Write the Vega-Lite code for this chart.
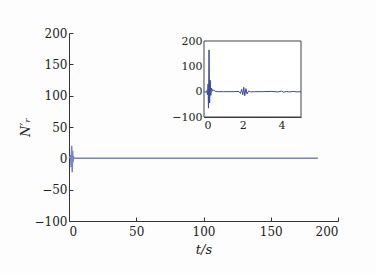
{
  "$schema": "https://vega.github.io/schema/vega-lite/v6.json",
  "width": 269,
  "height": 188,
  "autosize": "none",
  "padding": {"left": 69, "top": 33, "right": 38, "bottom": 52},
  "background": "#fdfdfd",
  "config": {
    "view": {"stroke": null},
    "axis": {
      "grid": false,
      "labelFont": "DejaVu Serif",
      "titleFont": "DejaVu Serif",
      "labelFontSize": 12,
      "titleFontSize": 13,
      "titleFontWeight": "normal",
      "labelColor": "#222",
      "titleColor": "#222",
      "domainColor": "#333",
      "tickColor": "#333",
      "tickSize": -4,
      "labelPadding": 6
    }
  },
  "layer": [
    {
      "data": {"values": [
        {"t": 0, "v": 0}, {"t": 1.2, "v": 4}, {"t": 1.6, "v": -14}, {"t": 2.0, "v": 20},
        {"t": 2.4, "v": -22}, {"t": 2.7, "v": 12}, {"t": 3.0, "v": -6}, {"t": 3.3, "v": 3},
        {"t": 3.7, "v": 0}, {"t": 6, "v": 0}, {"t": 185, "v": 0}
      ]},
      "mark": {"type": "line", "color": "#7a82bf", "strokeWidth": 1.5},
      "encoding": {
        "x": {"field": "t", "type": "quantitative",
              "scale": {"domain": [0, 200], "nice": false},
              "axis": {"values": [0, 50, 100, 150, 200], "title": "t/s", "titleFontStyle": "italic", "titlePadding": 6, "labelPadding": 9, "orient": "bottom"}},
        "y": {"field": "v", "type": "quantitative",
              "scale": {"domain": [-100, 200], "nice": false, "zero": false},
              "axis": {"values": [-100, -50, 0, 50, 100, 150, 200], "title": "N′ᵣ", "titleFontStyle": "italic", "titlePadding": 2, "orient": "left"}}
      }
    },
    {
      "layer": [
        {
          "data": {"values": [{"x0": 0, "x1": 5, "y0": -100, "y1": 200}]},
          "mark": {"type": "rect", "fill": "#ffffff", "stroke": "#444", "strokeWidth": 1},
          "encoding": {
            "x": {"field": "x0", "type": "quantitative",
                  "scale": {"domain": [0, 5], "range": [135, 232], "nice": false},
                  "axis": {"orient": "bottom", "offset": -104, "values": [0, 2, 4], "title": null, "labelFontSize": 11, "tickSize": -3, "labelPadding": 5}},
            "x2": {"field": "x1"},
            "y": {"field": "y0", "type": "quantitative",
                  "scale": {"domain": [-100, 200], "range": [84, 8], "nice": false, "zero": false},
                  "axis": {"orient": "left", "offset": -135, "values": [-100, 0, 100, 200], "title": null, "labelFontSize": 11, "tickSize": -3, "labelPadding": 5}},
            "y2": {"field": "y1"}
          }
        },
        {
          "data": {"values": [
            {"t": 0, "v": 0}, {"t": 0.08, "v": -2}, {"t": 0.13, "v": 4}, {"t": 0.18, "v": -12},
            {"t": 0.21, "v": 30}, {"t": 0.23, "v": -65}, {"t": 0.26, "v": 165}, {"t": 0.29, "v": -45},
            {"t": 0.32, "v": 45}, {"t": 0.35, "v": -15}, {"t": 0.39, "v": 14}, {"t": 0.44, "v": 2},
            {"t": 0.5, "v": 7}, {"t": 0.58, "v": 1}, {"t": 0.7, "v": 0}, {"t": 1.0, "v": 0},
            {"t": 1.5, "v": 0}, {"t": 1.8, "v": 1}, {"t": 1.88, "v": -7}, {"t": 1.94, "v": 9},
            {"t": 2.0, "v": -12}, {"t": 2.05, "v": 17}, {"t": 2.1, "v": -16}, {"t": 2.16, "v": 12},
            {"t": 2.22, "v": -9}, {"t": 2.3, "v": 3}, {"t": 2.4, "v": -1}, {"t": 2.6, "v": 0},
            {"t": 3.0, "v": 0}, {"t": 3.5, "v": 1}, {"t": 3.8, "v": -1}, {"t": 4.0, "v": 2},
            {"t": 4.1, "v": -2}, {"t": 4.25, "v": 1}, {"t": 4.4, "v": -1}, {"t": 4.6, "v": 1},
            {"t": 4.8, "v": -1}, {"t": 5.0, "v": 0}
          ]},
          "mark": {"type": "line", "color": "#3d4898", "strokeWidth": 1},
          "encoding": {
            "x": {"field": "t", "type": "quantitative"},
            "y": {"field": "v", "type": "quantitative"}
          }
        }
      ]
    }
  ],
  "resolve": {"scale": {"x": "independent", "y": "independent"}, "axis": {"x": "independent", "y": "independent"}}
}
